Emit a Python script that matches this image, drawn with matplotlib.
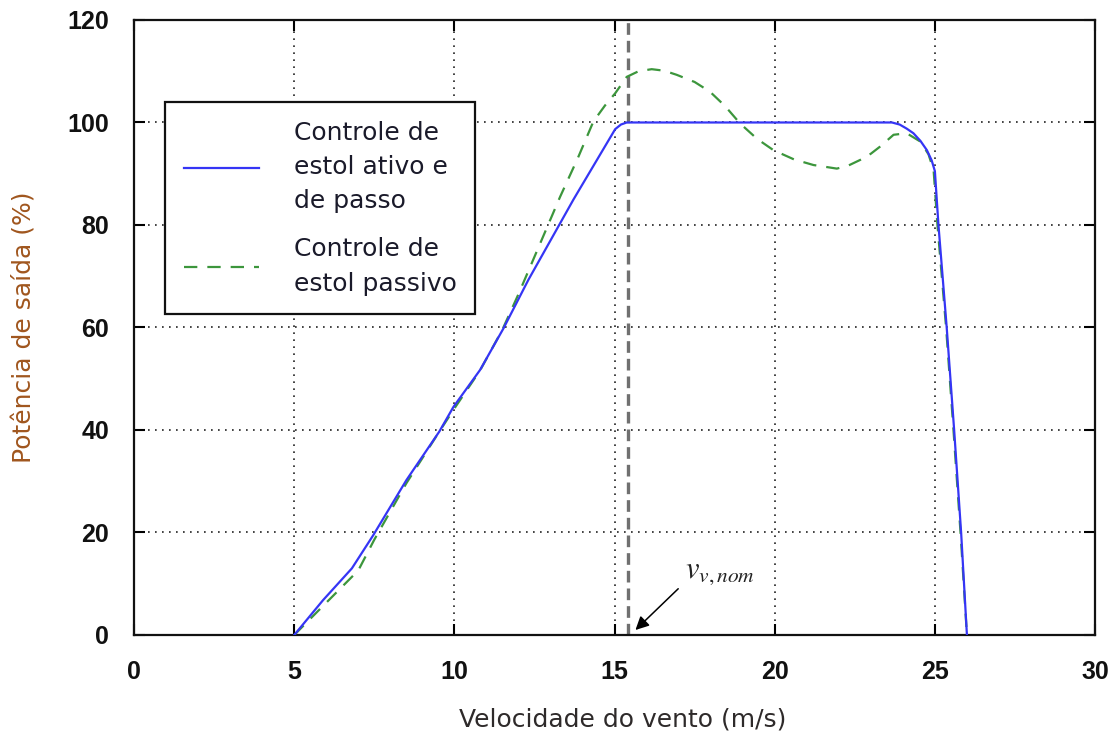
import matplotlib
matplotlib.use("Agg")
import matplotlib.pyplot as plt

# Curvas de potência (% da nominal) em função da velocidade do vento (m/s)
vento_ativo = [5.0, 5.9, 6.8, 7.47, 8.5, 9.53, 9.97, 10.8, 11.53, 12.31, 13.72,
               15.02, 15.2, 15.38, 23.66, 23.9, 24.12, 24.33, 24.55, 24.75,
               24.9, 25.0, 25.11, 25.37, 25.6, 25.82, 26.0]
potencia_ativo = [0.0, 6.8, 13.0, 19.5, 30.2, 39.7, 44.5, 51.7, 59.8, 69.3, 85.0,
                  98.7, 99.6, 100.0, 100.0, 99.6, 98.8, 97.9, 96.4, 94.6,
                  92.6, 90.5, 80.1, 59.9, 40.1, 19.9, 0.0]

vento_passivo = [5.0, 6.0, 7.0, 7.5, 8.5, 9.5, 10.0, 10.8, 11.5, 12.0, 12.5,
                 13.3, 13.85, 14.34, 14.7, 15.02, 15.38, 15.75, 16.16, 16.55,
                 16.94, 17.5, 17.98, 18.45, 18.92, 19.45, 19.96, 20.6, 21.21,
                 21.94, 22.3, 22.67, 23.0, 23.29, 23.71, 24.12, 24.54, 24.8,
                 24.96, 25.08, 25.35, 25.58, 25.8, 26.0]
potencia_passivo = [0.0, 6.3, 12.6, 18.6, 29.6, 39.4, 44.2, 51.6, 59.6, 66.5, 73.8,
                    85.5, 93.0, 100.2, 103.3, 105.7, 108.9, 110.0, 110.4, 110.1,
                    109.3, 107.9, 106.0, 103.2, 99.8, 96.8, 94.6, 92.8, 91.7,
                    91.0, 91.6, 92.7, 93.9, 95.3, 97.6, 97.9, 96.3, 93.8,
                    90.7, 80.0, 60.0, 40.0, 20.0, 0.0]

v_nominal = 15.43

rotulos = ["Controle de\nestol ativo e\nde passo",
           "Controle de\nestol passivo"]
x_ticks = [0, 5, 10, 15, 20, 25, 30]
y_ticks = [0, 20, 40, 60, 80, 100, 120]

plt.rcParams["mathtext.fontset"] = "stix"

fig = plt.figure(figsize=(11.19, 7.40), dpi=100)
ax = fig.add_axes([0.1198, 0.1419, 0.8588, 0.8311])

ax.set_xlim(0, 30)
ax.set_ylim(0, 120)
ax.set_xticks(x_ticks)
ax.set_yticks(y_ticks)

ax.grid(True, color="#222222", linestyle=(0, (1, 3.2)), linewidth=1.2)
ax.set_axisbelow(True)

for sp in ax.spines.values():
    sp.set_linewidth(1.6)
    sp.set_color("#111111")

ax.tick_params(axis="both", direction="in", length=8, width=1.5,
               top=True, right=True, labelsize=18, pad=18)
for lab in ax.get_xticklabels() + ax.get_yticklabels():
    lab.set_fontfamily("Liberation Sans")
    lab.set_fontweight("bold")
    lab.set_color("#111111")

# velocidade nominal
ax.axvline(v_nominal, color="#707070", linestyle=(0, (3.5, 1.8)), linewidth=2.4, zorder=2)

l1, = ax.plot(vento_ativo, potencia_ativo, color="#3535f5", linewidth=1.6, zorder=4)
l2, = ax.plot(vento_passivo, potencia_passivo, color="#3c963c", linewidth=1.6,
              linestyle=(0, (6, 4.5)), zorder=3)

ax.set_xlabel("Velocidade do vento (m/s)", fontsize=18, color="#2e2a2a")
ax.xaxis.set_label_coords(0.508, -0.118)
ax.set_ylabel("Potência de saída (%)", fontsize=18, color="#a0561e", labelpad=22)

leg = ax.legend([l1, l2], rotulos, loc="upper left", bbox_to_anchor=(0.0323, 0.867),
                borderaxespad=0, fancybox=False, framealpha=1, edgecolor="#111111",
                fontsize=18, handlelength=3.0, handletextpad=1.4, borderpad=0.75,
                labelspacing=0.95)
leg.get_frame().set_linewidth(1.6)
for t in leg.get_texts():
    t.set_linespacing(1.55)
    t.set_color("#1a1a2a")

# seta indicando a velocidade nominal
ax.annotate("", xy=(15.59, 0.6), xytext=(17.05, 9.4),
            arrowprops=dict(arrowstyle="-|>", color="black", lw=1.1, mutation_scale=20))
ax.text(17.2, 11.1, r"$v_{v,nom}$", fontsize=22, color="#222222",
        ha="left", va="baseline")

fig.savefig("out.png", dpi=100)
